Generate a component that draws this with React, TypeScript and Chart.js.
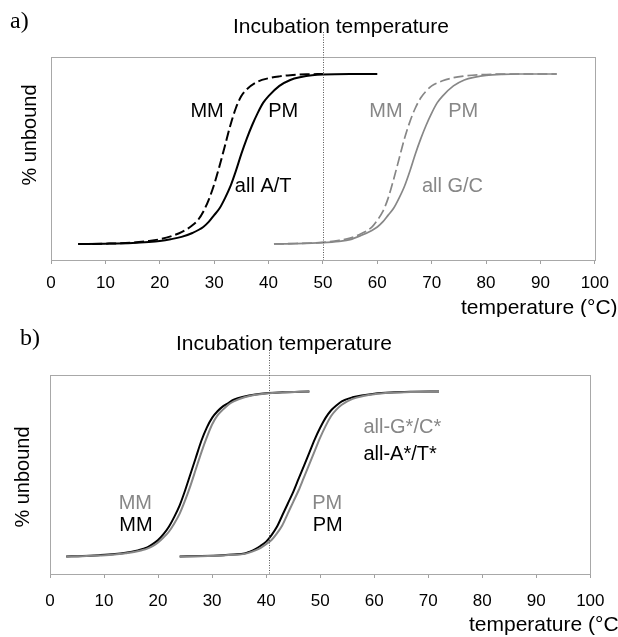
import React, { useEffect, useRef } from 'react';
import { Chart, registerables } from 'chart.js';

Chart.register(...registerables);

// ---------- Panel a) data (temperature °C, % unbound) ----------
const aBlackPMTemps = [5, 10, 15, 18, 20, 22, 24, 26, 28, 29, 30, 31, 32, 33, 34, 35, 36, 37, 38, 39, 40, 42, 44, 46, 48, 50, 55, 60];
const aBlackPM = [0, 0.2, 0.6, 1.2, 1.8, 2.8, 4.2, 6.5, 10, 13, 17, 21, 27, 34, 43, 53, 62, 70, 77, 83, 87, 93, 96.5, 98.2, 99.2, 99.7, 100, 100];

const aBlackMMTemps = [5, 10, 15, 18, 20, 22, 24, 26, 27, 28, 29, 30, 31, 32, 33, 34, 35, 36, 38, 40, 42, 44, 47, 50];
const aBlackMM = [0, 0.2, 0.8, 1.8, 2.8, 4.5, 7, 11, 14, 19, 26, 35, 46, 58, 70, 80, 87, 91, 95.5, 97.5, 98.6, 99.3, 99.8, 100];

const aGreyMMTemps = [41, 45, 50, 53, 55, 57, 59, 60, 61, 62, 63, 64, 65, 66, 67, 68, 69, 70, 72, 74, 76, 79, 84, 93];
const aGreyMM = [0, 0.3, 1, 2.2, 3.5, 6, 10, 14, 19, 27, 38, 50, 62, 72, 80, 86, 90, 93, 96, 97.8, 98.8, 99.6, 100, 100];

const aGreyPMTemps = [41, 45, 50, 53, 55, 57, 59, 60, 61, 62, 63, 64, 65, 66, 67, 68, 69, 70, 71, 72, 74, 76, 78, 80, 83, 86, 93];
const aGreyPM = [0, 0.2, 0.8, 1.6, 2.6, 5, 8, 10, 13, 17, 21, 27, 34, 43, 53, 62, 70, 77, 83, 87, 93, 96.5, 98.2, 99.2, 99.8, 100, 100];

// ---------- Panel b) data ----------
const bMMTemps = [3, 6, 9, 12, 14, 16, 17, 18, 19, 20, 21, 22, 23, 24, 25, 26, 27, 28, 29, 30, 31, 32, 33, 34, 36, 38, 40, 43, 48];
const bBlackMM = [0, 0.3, 0.8, 1.5, 2.3, 3.5, 4.5, 5.5, 7.5, 10, 13.5, 18, 24, 31, 40, 50, 60, 70, 78, 84, 88, 91, 93, 95, 97, 98.2, 99, 99.5, 100];
const bGreyMM = [0, 0.2, 0.6, 1.2, 2, 3, 3.8, 4.8, 6.3, 8.5, 11.5, 15, 20, 26, 34, 43, 53, 63, 72, 80, 85.5, 89, 92, 94, 96.5, 98, 98.8, 99.4, 100];

const bPMTemps = [24, 28, 32, 34, 36, 37, 38, 39, 40, 41, 42, 43, 44, 45, 46, 47, 48, 49, 50, 51, 52, 53, 54, 56, 58, 60, 63, 67, 72];
const bBlackPM = [0, 0.3, 0.8, 1.2, 1.8, 3, 4.5, 6.5, 9, 13, 18, 25, 32, 39, 47, 55, 63, 71, 78, 84, 88.5, 91.5, 94, 96.5, 97.8, 98.7, 99.4, 99.8, 100];
const bGreyPM = [0, 0.2, 0.6, 1, 1.6, 2.5, 3.7, 5.3, 7.5, 10, 14, 19, 26, 33, 40, 48, 56, 64, 72, 79, 85, 89, 92, 95.5, 97.3, 98.4, 99.2, 99.7, 100];

// incubation temperatures
const aIncubation = 50;
const bIncubation = 40.5;

// axis ticks
const xMin = 0;
const xMax = 100;
const xStep = 10;

const BLACK = '#000000';
const GREY = '#878787';
const SANS = '"Liberation Sans", Arial, Helvetica, sans-serif';
const SERIF = '"Liberation Serif", "Times New Roman", serif';

const zip = (xs: number[], ys: number[]) => xs.map((x, i) => ({ x, y: ys[i] }));

type Lbl = { text: string; x: number; y: number; color: string; align: CanvasTextAlign };

type PanelCfg = {
  height: number;
  padding: { left: number; right: number; top: number };
  axisHeight: number;
  tickPad: number;
  yMin: number;
  yMax: number;
  letter: string;
  letterX: number;
  letterY: number;
  incubation: number;
  titleLeft: number;
  titleY: number;
  dotTop: number;
  yTitleX: number;
  yTitleY: number;
  xTitleLeft: number;
  xTitleY: number;
  labels: Lbl[];
  datasets: any[];
};

function makePlugin(cfg: PanelCfg) {
  return {
    id: 'annot',
    beforeDatasetsDraw(chart: any) {
      const { ctx, chartArea } = chart;
      ctx.save();
      ctx.strokeStyle = '#a8a8a8';
      ctx.lineWidth = 1;
      ctx.strokeRect(
        Math.round(chartArea.left) + 0.5,
        Math.round(chartArea.top) + 0.5,
        Math.round(chartArea.right - chartArea.left),
        Math.round(chartArea.bottom - chartArea.top)
      );
      ctx.restore();
    },
    afterDatasetsDraw(chart: any) {
      const { ctx, chartArea, scales } = chart;
      const xs = scales.x;
      const ys = scales.y;
      ctx.save();
      // dotted incubation line
      const dx = Math.round(xs.getPixelForValue(cfg.incubation)) + 0.5;
      ctx.strokeStyle = '#555555';
      ctx.lineWidth = 1;
      ctx.setLineDash([1, 1.5]);
      ctx.beginPath();
      ctx.moveTo(dx, cfg.dotTop);
      ctx.lineTo(dx, chartArea.bottom);
      ctx.stroke();
      ctx.setLineDash([]);

      ctx.textBaseline = 'middle';
      // panel letter
      ctx.fillStyle = BLACK;
      ctx.font = `24px ${SERIF}`;
      ctx.textAlign = 'left';
      ctx.fillText(cfg.letter, cfg.letterX, cfg.letterY);

      // incubation title
      ctx.font = `21px ${SANS}`;
      ctx.fillText('Incubation temperature', cfg.titleLeft, cfg.titleY);

      // x axis title
      ctx.fillText('temperature (°C)', cfg.xTitleLeft, cfg.xTitleY);

      // y axis title
      ctx.font = `20px ${SANS}`;
      ctx.save();
      ctx.translate(cfg.yTitleX, cfg.yTitleY);
      ctx.rotate(-Math.PI / 2);
      ctx.textAlign = 'center';
      ctx.fillText('% unbound', 0, 0);
      ctx.restore();

      // curve labels
      ctx.font = `20px ${SANS}`;
      for (const l of cfg.labels) {
        ctx.fillStyle = l.color;
        ctx.textAlign = l.align;
        ctx.fillText(l.text, xs.getPixelForValue(l.x), ys.getPixelForValue(l.y));
      }
      ctx.restore();
    },
  };
}

const line = (data: { x: number; y: number }[], color: string, width: number, dash: number[] = []) => ({
  data,
  borderColor: color,
  backgroundColor: color,
  borderWidth: width,
  borderDash: dash,
  pointRadius: 0,
  fill: false,
  cubicInterpolationMode: 'monotone',
});

const panelA: PanelCfg = {
  height: 317,
  padding: { left: 51, right: 22, top: 57 },
  axisHeight: 57,
  tickPad: 9,
  yMin: -9.4,
  yMax: 110,
  letter: 'a)',
  letterX: 10,
  letterY: 22,
  incubation: aIncubation,
  titleLeft: 233,
  titleY: 27,
  dotTop: 32,
  yTitleX: 30.5,
  yTitleY: 135,
  xTitleLeft: 461,
  xTitleY: 308,
  labels: [
    { text: 'MM', x: 28.7, y: 78, color: BLACK, align: 'center' },
    { text: 'PM', x: 42.7, y: 78, color: BLACK, align: 'center' },
    { text: 'all A/T', x: 33.8, y: 34, color: BLACK, align: 'left' },
    { text: 'MM', x: 61.6, y: 78, color: GREY, align: 'center' },
    { text: 'PM', x: 75.8, y: 78, color: GREY, align: 'center' },
    { text: 'all G/C', x: 68.2, y: 34, color: GREY, align: 'left' },
  ],
  datasets: [
    line(zip(aGreyMMTemps, aGreyMM), GREY, 1.7, [10, 4]),
    line(zip(aGreyPMTemps, aGreyPM), GREY, 1.7),
    line(zip(aBlackMMTemps, aBlackMM), BLACK, 2, [10, 4]),
    line(zip(aBlackPMTemps, aBlackPM), BLACK, 2),
  ],
};

const panelB: PanelCfg = {
  height: 320,
  padding: { left: 50, right: 25, top: 58 },
  axisHeight: 63,
  tickPad: 13.5,
  yMin: -10.6,
  yMax: 110,
  letter: 'b)',
  letterX: 20,
  letterY: 22,
  incubation: bIncubation,
  titleLeft: 176,
  titleY: 27,
  dotTop: 33,
  yTitleX: 23,
  yTitleY: 160,
  xTitleLeft: 469,
  xTitleY: 308,
  labels: [
    { text: 'MM', x: 15.8, y: 32.4, color: GREY, align: 'center' },
    { text: 'MM', x: 15.9, y: 18.5, color: BLACK, align: 'center' },
    { text: 'PM', x: 51.3, y: 32.4, color: GREY, align: 'center' },
    { text: 'PM', x: 51.4, y: 18.5, color: BLACK, align: 'center' },
    { text: 'all-G*/C*', x: 58, y: 78, color: GREY, align: 'left' },
    { text: 'all-A*/T*', x: 58, y: 62, color: BLACK, align: 'left' },
  ],
  datasets: [
    line(zip(bMMTemps, bGreyMM), GREY, 2),
    line(zip(bPMTemps, bGreyPM), GREY, 2),
    line(zip(bMMTemps, bBlackMM), BLACK, 2),
    line(zip(bPMTemps, bBlackPM), BLACK, 2),
  ],
};

function Panel({ cfg }: { cfg: PanelCfg }) {
  const ref = useRef<HTMLCanvasElement>(null);
  useEffect(() => {
    if (!ref.current) return;
    const chart = new Chart(ref.current, {
      type: 'line',
      data: { datasets: cfg.datasets },
      options: {
        responsive: false,
        animation: false,
        devicePixelRatio: 1,
        parsing: true,
        layout: { padding: { left: cfg.padding.left, right: cfg.padding.right, top: cfg.padding.top, bottom: 0 } },
        plugins: { legend: { display: false }, tooltip: { enabled: false }, title: { display: false } },
        scales: {
          x: {
            type: 'linear',
            min: xMin,
            max: xMax,
            ticks: {
              stepSize: xStep,
              color: BLACK,
              padding: cfg.tickPad,
              maxRotation: 0,
              font: { family: SANS, size: 17 },
            },
            grid: { drawOnChartArea: false, drawTicks: true, tickLength: 4, color: '#a0a0a0' },
            border: { display: true, color: '#a0a0a0' },
            afterFit: (s: any) => {
              s.height = cfg.axisHeight;
            },
          },
          y: { type: 'linear', display: false, min: cfg.yMin, max: cfg.yMax },
        },
      } as any,
      plugins: [makePlugin(cfg) as any],
    });
    return () => chart.destroy();
  }, [cfg]);
  return (
    <canvas
      ref={ref}
      width={618}
      height={cfg.height}
      style={{ display: 'block', width: 618, height: cfg.height }}
    />
  );
}

export default function App() {
  return (
    <div style={{ position: 'absolute', left: 0, top: 0, width: 618, height: 637, background: '#fff' }}>
      <Panel cfg={panelA} />
      <Panel cfg={panelB} />
    </div>
  );
}
